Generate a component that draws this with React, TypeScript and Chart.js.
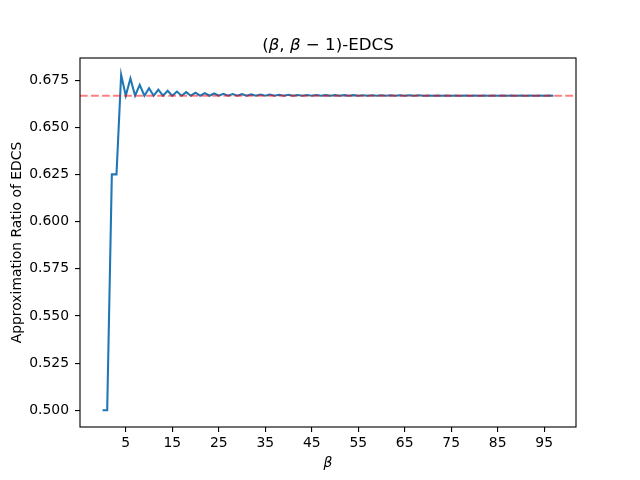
import React, { useEffect, useRef } from "react";
import { Chart, registerables } from "chart.js";

Chart.register(...registerables);

// β values (x axis)
const BETA = [
  0, 1, 2, 3, 4, 5, 6, 7, 8, 9, 10, 11, 12, 13, 14, 15, 16, 17, 18, 19,
  20, 21, 22, 23, 24, 25, 26, 27, 28, 29, 30, 31, 32, 33, 34, 35, 36, 37, 38, 39,
  40, 41, 42, 43, 44, 45, 46, 47, 48, 49, 50, 51, 52, 53, 54, 55, 56, 57, 58, 59,
  60, 61, 62, 63, 64, 65, 66, 67, 68, 69, 70, 71, 72, 73, 74, 75, 76, 77, 78, 79,
  80, 81, 82, 83, 84, 85, 86, 87, 88, 89, 90, 91, 92, 93, 94, 95, 96, 97,
];

// Approximation ratio
const RATIO = [
  0.5, 0.5, 0.625, 0.625, 0.6778, 0.6667, 0.6758, 0.6667, 0.6724, 0.6667,
  0.6707, 0.6667, 0.6699, 0.6667, 0.6693, 0.6667, 0.6689, 0.6667, 0.6686, 0.6667,
  0.6683, 0.6667, 0.6681, 0.6667, 0.6679, 0.6667, 0.6677, 0.6667, 0.6676, 0.6667,
  0.6675, 0.6667, 0.6674, 0.6667, 0.6673, 0.6667, 0.6673, 0.6667, 0.6672, 0.6667,
  0.6672, 0.6667, 0.6671, 0.6667, 0.6671, 0.6667, 0.6671, 0.6667, 0.6670, 0.6667,
  0.6670, 0.6667, 0.6670, 0.6667, 0.6670, 0.6667, 0.6669, 0.6667, 0.6669, 0.6667,
  0.6669, 0.6667, 0.6669, 0.6667, 0.6669, 0.6667, 0.6669, 0.6667, 0.6669, 0.6667,
  0.6668, 0.6667, 0.6668, 0.6667, 0.6668, 0.6667, 0.6668, 0.6667, 0.6668, 0.6667,
  0.6668, 0.6667, 0.6668, 0.6667, 0.6668, 0.6667, 0.6668, 0.6667, 0.6668, 0.6667,
  0.6668, 0.6667, 0.6668, 0.6667, 0.6668, 0.6667, 0.6668, 0.6667,
];

const X_TICKS = [5, 15, 25, 35, 45, 55, 65, 75, 85, 95];
const Y_TICKS = [0.5, 0.525, 0.55, 0.575, 0.6, 0.625, 0.65, 0.675];
const REFERENCE_RATIO = 2 / 3;

const TITLE_PARTS: [string, boolean][] = [
  ["(", false],
  ["β", true],
  [", ", false],
  ["β", true],
  [" − 1)-EDCS", false],
];
const X_LABEL = "β";
const Y_LABEL = "Approximation Ratio of EDCS";

const FONT = "'DejaVu Sans', sans-serif";

function App() {
  const ref = useRef<HTMLCanvasElement | null>(null);

  useEffect(() => {
    if (!ref.current) return;
    const xMinD = Math.min(...BETA);
    const xMaxD = Math.max(...BETA);
    const yMinD = Math.min(...RATIO);
    const yMaxD = Math.max(...RATIO);
    const xm = (xMaxD - xMinD) * 0.05;
    const ym = (yMaxD - yMinD) * 0.05;

    const decor = {
      id: "decor",
      beforeDraw(chart: any) {
        const ctx = chart.ctx;
        ctx.save();
        ctx.fillStyle = "#ffffff";
        ctx.fillRect(0, 0, chart.width, chart.height);
        ctx.restore();
      },
      afterDatasetsDraw(chart: any) {
        const { ctx, chartArea, scales } = chart;
        const py = scales.y.getPixelForValue(REFERENCE_RATIO);
        ctx.save();
        ctx.strokeStyle = "rgba(255,0,0,0.5)";
        ctx.lineWidth = 2.08;
        ctx.setLineDash([7.7, 3.33]);
        ctx.beginPath();
        ctx.moveTo(chartArea.left, py);
        ctx.lineTo(chartArea.right, py);
        ctx.stroke();
        ctx.restore();
      },
      afterDraw(chart: any) {
        const { ctx, chartArea } = chart;
        const { left, right, top, bottom } = chartArea;
        ctx.save();
        ctx.strokeStyle = "#000";
        ctx.lineWidth = 1.11;
        ctx.strokeRect(left, top, right - left, bottom - top);

        // title
        ctx.fillStyle = "#000";
        ctx.textBaseline = "alphabetic";
        const tsize = 16.67;
        let total = 0;
        for (const [t, it] of TITLE_PARTS) {
          ctx.font = `${it ? "italic " : ""}${tsize}px ${FONT}`;
          total += ctx.measureText(t).width;
        }
        let x = (left + right) / 2 - total / 2;
        ctx.textAlign = "left";
        for (const [t, it] of TITLE_PARTS) {
          ctx.font = `${it ? "italic " : ""}${tsize}px ${FONT}`;
          ctx.fillText(t, x, top - 8.3);
          x += ctx.measureText(t).width;
        }

        // x label
        ctx.font = `italic 13.9px ${FONT}`;
        ctx.textAlign = "center";
        ctx.textBaseline = "top";
        ctx.fillText(X_LABEL, (left + right) / 2, 456);

        // y label
        ctx.save();
        ctx.translate(17.5, (top + bottom) / 2);
        ctx.rotate(-Math.PI / 2);
        ctx.font = `13.9px ${FONT}`;
        ctx.textAlign = "center";
        ctx.textBaseline = "middle";
        ctx.fillText(Y_LABEL, 0, 0);
        ctx.restore();
        ctx.restore();
      },
    };

    const chart = new Chart(ref.current, {
      type: "line",
      data: {
        datasets: [
          {
            data: BETA.map((b, i) => ({ x: b, y: RATIO[i] })),
            borderColor: "#1f77b4",
            borderWidth: 2.08,
            pointRadius: 0,
            tension: 0,
            fill: false,
          },
        ],
      },
      plugins: [decor],
      options: {
        animation: false,
        responsive: false,
        devicePixelRatio: 1,
        layout: { padding: { left: 0, top: 58, right: 64, bottom: 0 } },
        plugins: {
          legend: { display: false },
          title: { display: false },
          tooltip: { enabled: false },
        },
        scales: {
          x: {
            type: "linear",
            min: xMinD - xm,
            max: xMaxD + xm,
            afterBuildTicks: (s: any) => {
              s.ticks = X_TICKS.map((v) => ({ value: v }));
            },
            afterFit: (s: any) => {
              s.height = 53;
            },
            ticks: {
              color: "#000",
              font: { family: FONT, size: 13.9 },
              padding: 3,
              maxRotation: 0,
              autoSkip: false,
              callback: (v: any) => String(v),
            },
            grid: {
              display: true,
              drawOnChartArea: false,
              drawTicks: true,
              tickLength: 5,
              color: "#000",
              lineWidth: 1.11,
            },
            border: { display: false },
          },
          y: {
            type: "linear",
            min: yMinD - ym,
            max: yMaxD + ym,
            afterBuildTicks: (s: any) => {
              s.ticks = Y_TICKS.map((v) => ({ value: v }));
            },
            afterFit: (s: any) => {
              s.width = 80;
            },
            ticks: {
              color: "#000",
              font: { family: FONT, size: 13.9 },
              padding: 6,
              autoSkip: false,
              callback: (v: any) => Number(v).toFixed(3),
            },
            grid: {
              display: true,
              drawOnChartArea: false,
              drawTicks: true,
              tickLength: 5,
              color: "#000",
              lineWidth: 1.11,
            },
            border: { display: false },
          },
        },
      },
    } as any);

    return () => chart.destroy();
  }, []);

  return (
    <div style={{ position: "fixed", left: 0, top: 0, width: 640, height: 480, background: "#fff" }}>
      <canvas ref={ref} width={640} height={480} style={{ display: "block", width: 640, height: 480 }} />
    </div>
  );
}

export default App;
